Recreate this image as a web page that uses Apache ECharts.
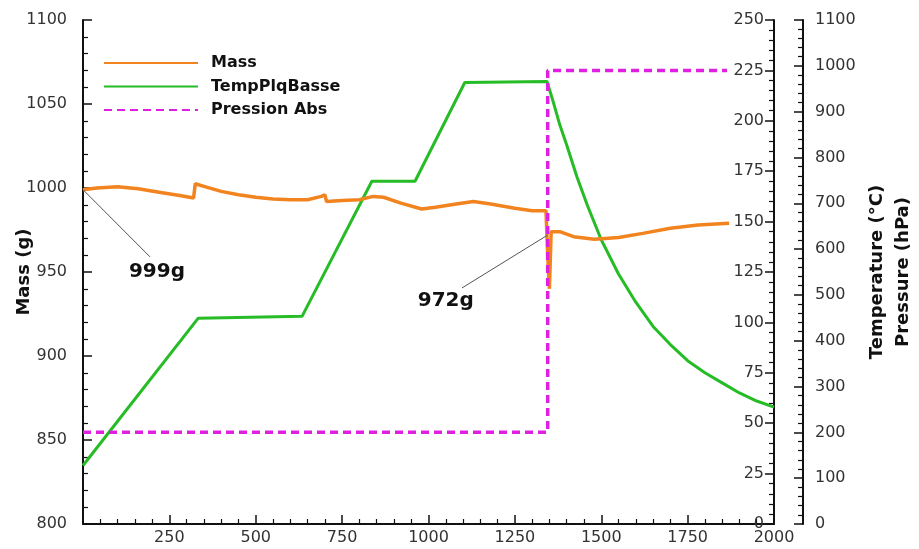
<!DOCTYPE html>
<html><head><meta charset="utf-8">
<script src="https://cdn.jsdelivr.net/npm/echarts@6/dist/echarts.min.js"></script>
<style>html,body{margin:0;padding:0;background:#fff}#c{width:919px;height:549px}</style>
</head><body><div id="c"></div>
<script>
// ---- data (time in s) ----
const seriesNames = ['Mass', 'TempPlqBasse', 'Pression Abs'];
const massData = [
  [0,999],[40,1000],[100,1000.8],[160,999.5],[220,997.5],[280,995.5],[320,994],
  [325,1002.5],[350,1001],[400,998],[450,996],[500,994.5],[550,993.5],[600,993],
  [650,993],[690,995],[700,996],[705,992],[750,992.5],[800,993],[840,995],[870,994.5],
  [920,991],[980,987.5],[1020,988.5],[1080,990.5],[1130,992],[1180,990.5],[1250,988],
  [1300,986.5],[1340,986.5],[1345,960],[1350,940],[1355,974],[1380,974],[1420,971],
  [1480,969.5],[1550,970.5],[1620,973],[1700,976],[1780,978],[1870,979]
];
const tempData = [
  [0,29],[333,102],[634,103],[836,170],[961,170],[1105,219],[1343,219.5],
  [1360,210],[1380,198],[1400,188],[1430,172],[1460,158],[1500,141],[1550,124],
  [1600,110],[1650,98],[1700,89],[1750,81],[1800,75],[1850,70],[1900,65],[1950,61],[2000,58]
];
const pressData = [[0,200],[1345,200],[1345,990],[1864,990]];
const annotations = [
  {text:'999g', from:[0,999], to:[194,959], at:[214,950]},
  {text:'972g', from:[1345,972], to:[1097,940.5], at:[1050,933]}
];
const colors = ['#F2841F', '#26BC26', '#E020E0'];

const FONT = 'DejaVu Sans';
function axisStyle(extra) {
  return Object.assign({
    axisLine:{show:true,onZero:false,lineStyle:{color:'#111',width:2}},
    axisTick:{show:true,inside:true,length:9,lineStyle:{color:'#111',width:1.5}},
    minorTick:{show:true,splitNumber:5,length:5,lineStyle:{color:'#111',width:1.2}},
    splitLine:{show:false},
    minorSplitLine:{show:false},
    nameMoveOverlap:false
  }, extra);
}
const plain = v => String(v);
const labelStyle = {color:'#333',fontFamily:FONT,fontSize:16,formatter:plain};
const titleStyle = {color:'#111',fontFamily:FONT,fontSize:18,fontWeight:'bold'};

const chart = echarts.init(document.getElementById('c'), null, {renderer:'canvas'});
chart.setOption({
  animation:false,
  backgroundColor:'#fff',
  grid:{left:83,right:145,top:20,bottom:25,containLabel:false,outerBoundsMode:'none'},
  legend:{
    data:seriesNames, orient:'vertical', left:103, top:55, padding:0,
    itemWidth:94, itemHeight:14, itemGap:7.5,
    itemStyle:{opacity:0},
    textStyle:{fontFamily:FONT,fontWeight:'bold',fontSize:16,color:'#111',padding:[0,0,0,8]}
  },
  xAxis: axisStyle({
    type:'value', min:0, max:2000, interval:250,
    axisLabel:Object.assign({}, labelStyle, {margin:6, formatter:v=>v===0?'':String(v)})
  }),
  yAxis:[
    axisStyle({
      type:'value', min:800, max:1100, interval:50, position:'left',
      name:'Mass (g)', nameLocation:'middle', nameGap:50, nameTextStyle:titleStyle,
      axisLabel:Object.assign({}, labelStyle, {margin:16})
    }),
    axisStyle({
      type:'value', min:0, max:250, interval:25, position:'right',
      name:'Temperature (°C)', nameLocation:'middle', nameGap:94, nameRotate:90, nameTextStyle:titleStyle,
      axisLabel:Object.assign({}, labelStyle, {inside:true, margin:10})
    }),
    axisStyle({
      type:'value', min:0, max:1100, interval:100, position:'right', offset:29,
      name:'Pressure (hPa)', nameLocation:'middle', nameGap:91, nameRotate:90, nameTextStyle:titleStyle,
      axisLabel:Object.assign({}, labelStyle, {margin:12})
    })
  ],
  series:[
    {name:seriesNames[0], type:'line', yAxisIndex:0, data:massData, symbol:'none',
     lineStyle:{color:colors[0],width:3.5}, itemStyle:{color:colors[0]}, z:3,
     markLine:{silent:true, symbol:['none','none'], label:{show:false},
       lineStyle:{color:'#555',width:1,type:'solid'},
       data:annotations.map(a=>[{coord:a.from},{coord:a.to}])},
     markPoint:{silent:true, symbol:'circle', symbolSize:1, itemStyle:{color:'rgba(0,0,0,0)'},
       label:{show:true, position:'inside', formatter:p=>p.name, color:'#111', fontFamily:FONT, fontWeight:'bold', fontSize:20},
       data:annotations.map(a=>({name:a.text, coord:a.at}))}
    },
    {name:seriesNames[1], type:'line', yAxisIndex:1, data:tempData, symbol:'none',
     lineStyle:{color:colors[1],width:3}, itemStyle:{color:colors[1]}, z:2},
    {name:seriesNames[2], type:'line', yAxisIndex:2, data:pressData, symbol:'none',
     lineStyle:{color:colors[2],width:3.5,type:[8,5]}, itemStyle:{color:colors[2]}, z:4}
  ]
});
</script></body></html>
